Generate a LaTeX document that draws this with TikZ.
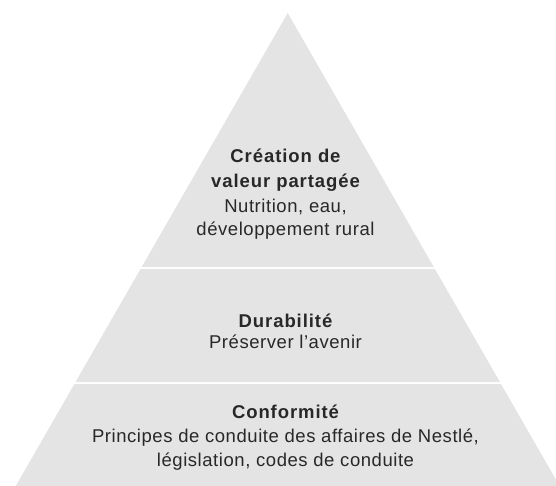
\documentclass[tikz,border=0pt]{standalone}
\usepackage{fontspec}
\setmainfont{Liberation Sans}
\newfontfamily\regf[LetterSpace=3]{Liberation Sans}
\newfontfamily\boldf[LetterSpace=5]{Liberation Sans}
\definecolor{tierfill}{RGB}{228,228,229}
\definecolor{txt}{RGB}{40,40,40}
\begin{document}
\begin{tikzpicture}[x=1pt,y=-1pt,
  tier/.style={fill=tierfill,draw=none},
  head/.style={anchor=base,inner sep=0pt,text=txt,font=\boldf\bfseries\fontsize{18.5}{22}\selectfont},
  body/.style={anchor=base,inner sep=0pt,text=txt,font=\regf\fontsize{18.5}{22}\selectfont}]
\useasboundingbox (0,0) rectangle (556,486);
\clip (0,0) rectangle (556,486);
% tiers
\fill[tier] (287.7,13) -- (433.75,267) -- (141.65,267) -- cycle;
\fill[tier] (140.5,269) -- (434.9,269) -- (499.9,382) -- (75.5,382) -- cycle;
\fill[tier] (74.4,384) -- (501.0,384) -- (567.7,500) -- (7.7,500) -- cycle;
% top tier text
\node[head] (t1) at (285.5,163) {Création de};
\node[head] (t2) at (285.5,188) {valeur partagée};
\node[body] (t3) at (285.5,212) {Nutrition, eau,};
\node[body] (t4) at (285.5,236) {développement rural};
% middle tier text
\node[head] (m1) at (285.5,327) {Durabilité};
\node[body] (m2) at (285.5,348) {Préserver l’avenir};
% bottom tier text
\node[head] (b1) at (285.5,418) {Conformité};
\node[body] (b2) at (285.5,442) {Principes de conduite des affaires de Nestlé,};
\node[body] (b3) at (285.5,466) {législation, codes de conduite};
\end{tikzpicture}
\end{document}
